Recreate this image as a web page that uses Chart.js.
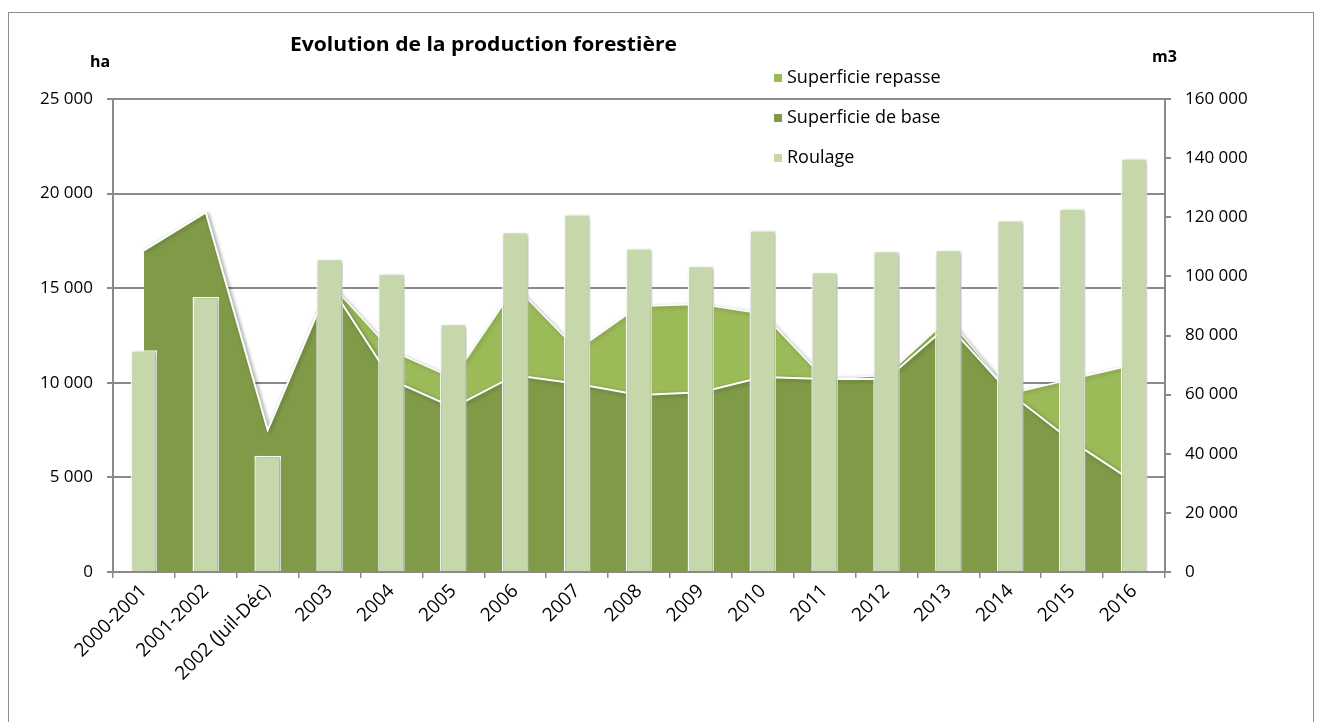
<!DOCTYPE html>
<html lang="fr">
<head>
<meta charset="utf-8">
<title>Evolution de la production forestière</title>
<script src="https://cdn.jsdelivr.net/npm/chart.js@4.4.1/dist/chart.umd.min.js"></script>
<style>
  html, body { margin: 0; padding: 0; background: #fff; }
  body { width: 1320px; height: 722px; position: relative; overflow: hidden; font-family: "Open Sans", sans-serif; }
  #frame { position: absolute; left: 8px; top: 12px; width: 1306px; height: 740px; border: 1.5px solid #8c8c8c; box-sizing: border-box; }
  #chart { position: absolute; left: 0; top: 0; }
  .lbl { position: absolute; font-weight: bold; color: #000; white-space: nowrap; }
  #title { left: 290px; top: 31px; font-size: 19px; transform: scaleX(1.11); transform-origin: left top; }
  #unit-left { left: 90px; top: 50px; font-size: 16px; }
  #unit-right { left: 1152px; top: 45px; font-size: 16px; }
  #legend { position: absolute; left: 774px; top: 63px; font-size: 18px; color: #000; }
  #legend div { height: 40px; line-height: 26px; white-space: nowrap; }
  #legend span { display: inline-block; width: 8px; height: 8px; margin-right: 5px; vertical-align: 1px; }
</style>
</head>
<body>
<div id="frame"></div>
<canvas id="chart" width="1320" height="722"></canvas>
<div class="lbl" id="title">Evolution de la production forestière</div>
<div class="lbl" id="unit-left">ha</div>
<div class="lbl" id="unit-right">m3</div>
<div id="legend"></div>
<script>
// ── Data ───────────────────────────────────────────────────────────────────
const categories = [
  "2000-2001", "2001-2002", "2002 (Juil-Déc)", "2003", "2004", "2005", "2006", "2007",
  "2008", "2009", "2010", "2011", "2012", "2013", "2014", "2015", "2016",
];
// hectares (left axis), stacked areas
const superficieBase    = [17000, 19000, 7500, 15200, 10150, 8700, 10400, 9950, 9350, 9500, 10300, 10200, 10200, 13050, 9430, 6900, 4750];
const superficieRepasse = [0, 0, 0, 100, 1550, 1550, 4700, 1800, 4700, 4650, 3350, 0, 200, 350, 0, 3300, 6200];
// m3 (right axis), bars
const roulage = [75000, 93000, 39300, 106000, 101000, 84000, 115000, 121000, 109500, 103600, 115600, 101500, 108600, 109000, 119000, 123000, 140000];

const leftTicks  = { min: 0, max: 25000, step: 5000 };
const rightTicks = { min: 0, max: 160000, step: 20000 };

// ── Styles ─────────────────────────────────────────────────────────────────
const COLOR_BASE    = "#7f9b48";
const COLOR_REPASSE = "#9bbb59";
const COLOR_ROULAGE = "#c6d7ac";
const GRID_COLOR    = "#8a8a8a";
const FONT          = { family: "Open Sans", size: 17 };
const FONT_X        = { family: "Open Sans", size: 19 };

const fmtNum = (v) => String(v).replace(/\B(?=(\d{3})+(?!\d))/g, " ");

// ── Legend (html) ──────────────────────────────────────────────────────────
const legendItems = [
  { label: "Superficie repasse", color: COLOR_REPASSE },
  { label: "Superficie de base", color: COLOR_BASE },
  { label: "Roulage",            color: COLOR_ROULAGE },
];
document.getElementById("legend").innerHTML = legendItems
  .map((it) => `<div><span style="background:${it.color}"></span>${it.label}</div>`)
  .join("");

// soft drop shadow like the office chart
const shadowPlugin = {
  id: "softShadow",
  beforeDatasetsDraw(chart) {
    const c = chart.ctx;
    c.save();
    c.shadowColor = "rgba(0,0,0,0.28)";
    c.shadowBlur = 4;
    c.shadowOffsetX = 1.5;
    c.shadowOffsetY = 1.5;
  },
  afterDatasetsDraw(chart) {
    chart.ctx.restore();
  },
};

// ── Chart ──────────────────────────────────────────────────────────────────
new Chart(document.getElementById("chart").getContext("2d"), {
  type: "bar",
  data: {
    labels: categories,
    datasets: [
      {
        type: "line",
        label: "Superficie de base",
        data: superficieBase,
        yAxisID: "y",
        stack: "ha",
        order: 1,
        fill: "origin",
        backgroundColor: COLOR_BASE,
        borderColor: "#ffffff",
        borderWidth: 2,
        pointRadius: 0,
        tension: 0,
      },
      {
        type: "line",
        label: "Superficie repasse",
        data: superficieRepasse,
        yAxisID: "y",
        stack: "ha",
        order: 2,
        fill: "-1",
        backgroundColor: COLOR_REPASSE,
        borderColor: "#ffffff",
        borderWidth: 1.5,
        pointRadius: 0,
        tension: 0,
      },
      {
        type: "bar",
        label: "Roulage",
        data: roulage,
        yAxisID: "y1",
        order: 0,
        backgroundColor: COLOR_ROULAGE,
        borderColor: "#ffffff",
        borderWidth: 1.5,
        barPercentage: 1,
        categoryPercentage: 0.43,
      },
    ],
  },
  options: {
    responsive: false,
    animation: false,
    devicePixelRatio: 1,
    layout: { padding: { left: 8, top: 99, right: 0, bottom: 0 } },
    plugins: {
      legend: { display: false },
      title: { display: false },
      tooltip: { enabled: false },
    },
    scales: {
      x: {
        offset: true,
        grid: { offset: true, drawOnChartArea: false, drawTicks: true, tickLength: 6, color: GRID_COLOR, lineWidth: 1.5 },
        border: { display: true, color: GRID_COLOR, width: 2 },
        ticks: { minRotation: 45, maxRotation: 45, autoSkip: false, padding: 2, color: "#000", font: FONT_X },
        afterFit: (s) => { s.height = 150; },
      },
      y: {
        position: "left",
        stacked: true,
        min: leftTicks.min,
        max: leftTicks.max,
        grid: { color: GRID_COLOR, lineWidth: 2, tickLength: 6 },
        border: { display: true, color: GRID_COLOR, width: 2 },
        ticks: { stepSize: leftTicks.step, padding: 14, color: "#000", font: FONT, callback: (v) => fmtNum(v) },
        afterFit: (s) => { s.width = 105; },
      },
      y1: {
        position: "right",
        min: rightTicks.min,
        max: rightTicks.max,
        grid: { drawOnChartArea: false, color: GRID_COLOR, lineWidth: 2, tickLength: 6 },
        border: { display: true, color: GRID_COLOR, width: 2 },
        ticks: { stepSize: rightTicks.step, padding: 14, color: "#000", font: FONT, callback: (v) => fmtNum(v) },
        afterFit: (s) => { s.width = 155; },
      },
    },
  },
  plugins: [shadowPlugin],
});
</script>
</body>
</html>
